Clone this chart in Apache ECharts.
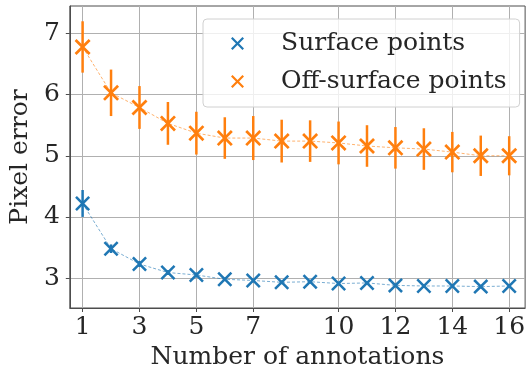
<!DOCTYPE html>
<html>
<head>
<meta charset="utf-8">
<script src="https://cdn.jsdelivr.net/npm/echarts@6/dist/echarts.min.js"></script>
<style>
  html, body { margin: 0; padding: 0; background: #fff; }
  #chart { width: 528px; height: 375px; }
</style>
</head>
<body>
<div id="chart"></div>
<script>
// Valeurs
const annotations = [1, 2, 3, 4, 5, 6, 7, 8, 9, 10, 11, 12, 13, 14, 15, 16];
const surfaceMean = [4.22, 3.48, 3.23, 3.09, 3.05, 2.98, 2.96, 2.93, 2.94, 2.91, 2.92, 2.88, 2.87, 2.87, 2.86, 2.87];
const surfaceErr = [0.22, 0.07, 0.05, 0.04, 0.04, 0.03, 0.03, 0.03, 0.03, 0.03, 0.03, 0.03, 0.03, 0.03, 0.03, 0.03];
const offMean = [6.78, 6.03, 5.79, 5.53, 5.37, 5.29, 5.29, 5.24, 5.24, 5.21, 5.16, 5.13, 5.11, 5.06, 5.00, 5.00];
const offErr = [0.42, 0.38, 0.35, 0.35, 0.35, 0.34, 0.36, 0.35, 0.34, 0.35, 0.34, 0.34, 0.34, 0.33, 0.33, 0.32];
const xTicks = [1, 3, 5, 7, 10, 12, 14, 16];
const yTicks = [3, 4, 5, 6, 7];
const seriesNames = ["Surface points", "Off-surface points"];

const BLUE = "#1f77b4";
const ORANGE = "#ff7f0e";
const FONT = "DejaVu Serif";
const FS = 25;
const TEXT = "#262626";
const SPINE = "#4d4d4d";
const GRID = "#b0b0b0";

// Croix "x" façon matplotlib
const X_PATH = "path://M0,1.2L1.2,0L5,3.8L8.8,0L10,1.2L6.2,5L10,8.8L8.8,10L5,6.2L1.2,10L0,8.8L3.8,5Z";

function points(mean) {
  return annotations.map((x, i) => [x, mean[i]]);
}

function bars(mean, err) {
  return annotations.map((x, i) => [x, mean[i] - err[i], mean[i] + err[i]]);
}

function errorSeries(name, color, data) {
  return {
    name: name,
    type: "custom",
    z: 2,
    silent: true,
    data: data,
    encode: { x: 0, y: [1, 2] },
    renderItem: function (params, api) {
      const lo = api.coord([api.value(0), api.value(1)]);
      const hi = api.coord([api.value(0), api.value(2)]);
      return {
        type: "line",
        shape: { x1: lo[0], y1: lo[1], x2: hi[0], y2: hi[1] },
        style: { stroke: color, lineWidth: 2.5 }
      };
    }
  };
}

function lineSeries(name, color, data, size) {
  return {
    name: name,
    type: "line",
    z: 3,
    data: data,
    symbol: X_PATH,
    symbolSize: size,
    showAllSymbol: true,
    itemStyle: { color: color },
    lineStyle: { color: color, width: 1, type: [3, 2], opacity: 0.6 },
    animation: false
  };
}

const chart = echarts.init(document.getElementById("chart"));

chart.setOption({
  animation: false,
  textStyle: { fontFamily: FONT, color: TEXT },
  // le bord droit du cadre sort de l'image, comme sur la figure
  grid: {
    left: 67, right: -3, top: 6, bottom: 67,
    show: true, borderColor: SPINE, borderWidth: 1
  },
  legend: {
    orient: "vertical",
    left: 203,
    top: 19,
    padding: [12, 13, 13, 28],
    itemGap: 13,
    itemWidth: 13,
    itemHeight: 13,
    backgroundColor: "rgba(255,255,255,0.8)",
    borderColor: "#d0d0d0",
    borderWidth: 1,
    borderRadius: 4,
    data: [
      { name: seriesNames[0], icon: X_PATH, itemStyle: { color: BLUE } },
      { name: seriesNames[1], icon: X_PATH, itemStyle: { color: ORANGE } }
    ],
    textStyle: { fontFamily: FONT, fontSize: FS, color: TEXT, padding: [0, 0, 0, 32] }
  },
  xAxis: {
    type: "value",
    min: 0.55,
    max: 16.56,
    name: "Number of annotations",
    nameLocation: "middle",
    nameGap: 29,
    nameTextStyle: { fontFamily: FONT, fontSize: FS, color: TEXT },
    axisLine: { show: true, lineStyle: { color: SPINE, width: 1 } },
    axisTick: { show: true, length: 4, customValues: xTicks, lineStyle: { color: SPINE } },
    axisLabel: { customValues: xTicks, fontFamily: FONT, fontSize: FS, color: TEXT, margin: 7 },
    splitLine: { show: true, lineStyle: { color: GRID, width: 1 } }
  },
  yAxis: {
    type: "value",
    min: 2.51,
    max: 7.45,
    name: "Pixel error",
    nameLocation: "middle",
    nameGap: 34,
    nameTextStyle: { fontFamily: FONT, fontSize: FS, color: TEXT },
    axisLine: { show: true, lineStyle: { color: SPINE, width: 1 } },
    axisTick: { show: true, length: 4, customValues: yTicks, lineStyle: { color: SPINE } },
    axisLabel: { customValues: yTicks, fontFamily: FONT, fontSize: FS, color: TEXT, margin: 10 },
    splitLine: { show: true, lineStyle: { color: GRID, width: 1 } }
  },
  series: [
    errorSeries(seriesNames[0], BLUE, bars(surfaceMean, surfaceErr)),
    errorSeries(seriesNames[1], ORANGE, bars(offMean, offErr)),
    lineSeries(seriesNames[0], BLUE, points(surfaceMean), 15),
    lineSeries(seriesNames[1], ORANGE, points(offMean), 16)
  ]
});
</script>
</body>
</html>
